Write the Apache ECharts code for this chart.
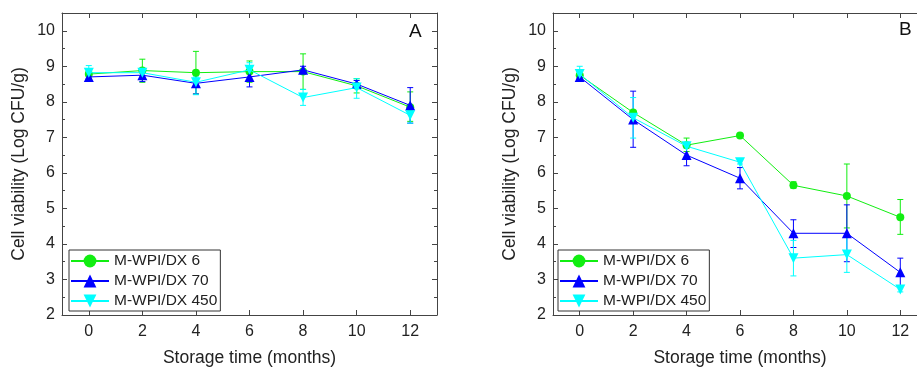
<!DOCTYPE html>
<html><head><meta charset="utf-8">
<script src="https://cdn.jsdelivr.net/npm/echarts@6/dist/echarts.min.js"></script>
<style>html,body{margin:0;padding:0;background:#fff}#c{width:917px;height:367px}</style>
</head><body><div id="c"></div>
<script>
// ---- data ----
var months = [0, 2, 4, 6, 8, 10, 12];
var yTicks = [2, 3, 4, 5, 6, 7, 8, 9, 10];
var yMinor = [2.5, 3.5, 4.5, 5.5, 6.5, 7.5, 8.5, 9.5, 10.5];
var seriesNames = ['M-WPI/DX 6', 'M-WPI/DX 70', 'M-WPI/DX 450'];

// Panel A
var aDX6 = [8.78, 8.88, 8.82, 8.85, 8.85, 8.45, 7.85];
var aDX6Hi = [8.85, 9.2, 9.42, 9.15, 9.35, 8.65, 8.28];
var aDX6Lo = [8.7, 8.55, 8.22, 8.55, 8.35, 8.25, 7.45];
var aDX70 = [8.7, 8.75, 8.52, 8.7, 8.9, 8.5, 7.9];
var aDX70Hi = [8.75, 8.93, 8.82, 9.0, 9.0, 8.6, 8.4];
var aDX70Lo = [8.65, 8.57, 8.22, 8.42, 8.8, 8.4, 7.4];
var aDX450 = [8.82, 8.82, 8.55, 8.9, 8.12, 8.4, 7.62];
var aDX450Hi = [9.02, 8.92, 8.7, 9.1, 8.35, 8.65, 7.85];
var aDX450Lo = [8.65, 8.72, 8.2, 8.6, 7.9, 8.1, 7.4];

// Panel B
var bDX6 = [8.75, 7.7, 6.78, 7.05, 5.65, 5.35, 4.75];
var bDX6Hi = [8.85, 7.75, 6.98, 7.1, 5.75, 6.25, 5.25];
var bDX6Lo = [8.65, 7.65, 6.6, 7.0, 5.57, 4.45, 4.27];
var bDX70 = [8.7, 7.5, 6.5, 5.85, 4.3, 4.3, 3.2];
var bDX70Hi = [8.75, 8.3, 6.8, 6.15, 4.68, 5.1, 3.6];
var bDX70Lo = [8.65, 6.72, 6.2, 5.55, 3.9, 3.5, 2.8];
var bDX450 = [8.78, 7.55, 6.75, 6.3, 3.6, 3.7, 2.72];
var bDX450Hi = [9.0, 8.12, 6.8, 6.35, 4.1, 4.2, 2.8];
var bDX450Lo = [8.6, 6.98, 6.7, 6.25, 3.1, 3.2, 2.65];

// ---- styles ----
var colors = ['#11ee11', '#0000ff', '#00ffff'];
var symbols = ['circle', 'triangle', 'triangle'];
var rotates = [0, 0, 180];
var symSizes = [8, 10, 10];
var axisColor = '#444';
var font = 'Liberation Sans, Arial, sans-serif';

function pairs(xs, ys) { return xs.map(function (x, i) { return [x, ys[i]]; }); }
function triples(xs, hi, lo) { return xs.map(function (x, i) { return [x, hi[i], lo[i]]; }); }

function errRender(color) {
  return function (params, api) {
    var x = api.value(0), hi = api.value(1), lo = api.value(2);
    var t = api.coord([x, hi]), b = api.coord([x, lo]);
    var c = 3;
    var st = { stroke: color, lineWidth: 1 };
    return { type: 'group', children: [
      { type: 'line', shape: { x1: t[0], y1: t[1], x2: b[0], y2: b[1] }, style: st },
      { type: 'line', shape: { x1: t[0] - c, y1: t[1], x2: t[0] + c, y2: t[1] }, style: st },
      { type: 'line', shape: { x1: b[0] - c, y1: b[1], x2: b[0] + c, y2: b[1] }, style: st }
    ]};
  };
}

var grids = [
  { left: 62, top: 13, width: 375, height: 302, outerBoundsMode: 'none', containLabel: false },
  { left: 553, top: 13, width: 374, height: 302, outerBoundsMode: 'none', containLabel: false }
];

var xAxes = [], yAxes = [];
[0, 1].forEach(function (g) {
  xAxes.push({
    type: 'value', gridIndex: g, min: -1, max: 13, position: 'bottom',
    name: 'Storage time (months)', nameLocation: 'middle', nameGap: 34,
    nameTextStyle: { fontSize: 17.5, color: '#222', fontFamily: font },
    axisLine: { show: true, onZero: false, lineStyle: { color: axisColor, width: 1 } },
    axisTick: { show: true, inside: true, length: 5, customValues: months, lineStyle: { color: axisColor } },
    axisLabel: { customValues: months, fontSize: 16, color: '#222', margin: 9, fontFamily: font },
    splitLine: { show: false }
  });
  xAxes.push({
    type: 'value', gridIndex: g, min: -1, max: 13, position: 'top',
    axisLine: { show: true, onZero: false, lineStyle: { color: axisColor, width: 1 } },
    axisTick: { show: true, inside: true, length: 5, customValues: months, lineStyle: { color: axisColor } },
    axisLabel: { show: false }, splitLine: { show: false }
  });
  yAxes.push({
    type: 'value', gridIndex: g, min: 2, max: 10.5, position: 'left',
    name: 'Cell viability (Log CFU/g)', nameLocation: 'middle', nameGap: 34,
    nameTextStyle: { fontSize: 17.5, color: '#222', fontFamily: font },
    axisLine: { show: true, onZero: false, lineStyle: { color: axisColor, width: 1 } },
    axisTick: { show: true, inside: true, length: 5, customValues: yTicks, lineStyle: { color: axisColor } },
    axisLabel: { customValues: yTicks, fontSize: 16, color: '#222', margin: 7, fontFamily: font },
    splitLine: { show: false }
  });
  yAxes.push({
    type: 'value', gridIndex: g, min: 2, max: 10.5, position: 'left',
    axisLine: { show: false, onZero: false },
    axisTick: { show: true, inside: true, length: 3, customValues: yMinor, lineStyle: { color: axisColor } },
    axisLabel: { show: false }, splitLine: { show: false }
  });
  yAxes.push({
    type: 'value', gridIndex: g, min: 2, max: 10.5, position: 'right',
    axisLine: { show: true, onZero: false, lineStyle: { color: axisColor, width: 1 } },
    axisTick: { show: true, inside: true, length: 5, customValues: yTicks, lineStyle: { color: axisColor } },
    axisLabel: { show: false }, splitLine: { show: false }
  });
  yAxes.push({
    type: 'value', gridIndex: g, min: 2, max: 10.5, position: 'right',
    axisLine: { show: false, onZero: false },
    axisTick: { show: true, inside: true, length: 3, customValues: yMinor, lineStyle: { color: axisColor } },
    axisLabel: { show: false }, splitLine: { show: false }
  });
});

var panels = [
  { vals: [aDX6, aDX70, aDX450], hi: [aDX6Hi, aDX70Hi, aDX450Hi], lo: [aDX6Lo, aDX70Lo, aDX450Lo] },
  { vals: [bDX6, bDX70, bDX450], hi: [bDX6Hi, bDX70Hi, bDX450Hi], lo: [bDX6Lo, bDX70Lo, bDX450Lo] }
];

var series = [];
panels.forEach(function (p, g) {
  [0, 1, 2].forEach(function (k) {
    series.push({
      type: 'custom', xAxisIndex: g * 2, yAxisIndex: g * 4, z: 1,
      renderItem: errRender(colors[k]), data: triples(months, p.hi[k], p.lo[k]),
      silent: true
    });
  });
  [0, 1, 2].forEach(function (k) {
    series.push({
      type: 'line', name: seriesNames[k], xAxisIndex: g * 2, yAxisIndex: g * 4, z: 2 + k,
      data: pairs(months, p.vals[k]),
      symbol: symbols[k], symbolRotate: rotates[k], symbolSize: symSizes[k],
      color: colors[k],
      itemStyle: { color: colors[k] },
      lineStyle: { color: colors[k], width: 1 },
      animation: false
    });
  });
});

function legendAt(left) {
  return {
    orient: 'vertical', left: left, top: 250, data: seriesNames,
    itemWidth: 38, itemHeight: 16, itemGap: 4,
    borderColor: '#333', borderWidth: 1, borderRadius: 0, padding: [3, 3, 2, 1],
    backgroundColor: '#fff',
    textStyle: { fontSize: 15.5, color: '#222', fontFamily: font },
    selectedMode: false
  };
}

var option = {
  animation: false,
  backgroundColor: '#fff',
  grid: grids,
  xAxis: xAxes,
  yAxis: yAxes,
  legend: [legendAt(69), legendAt(558)],
  series: series,
  graphic: [
    { type: 'text', left: 409, top: 22, style: { text: 'A', fontSize: 19, fill: '#111', fontFamily: font } },
    { type: 'text', left: 899, top: 20, style: { text: 'B', fontSize: 19, fill: '#111', fontFamily: font } }
  ]
};

var chart = echarts.init(document.getElementById('c'), null, { renderer: 'canvas' });
chart.setOption(option);
</script>
</body></html>
